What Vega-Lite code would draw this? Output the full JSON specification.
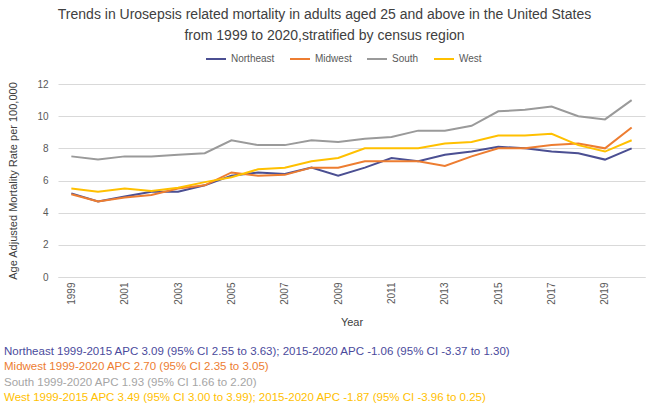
{
 "$schema": "https://vega.github.io/schema/vega-lite/v6.json",
 "background": "white",
 "padding": {"left": 4, "top": 8, "right": 5, "bottom": 5},
 "title": {"text": ["Trends in Urosepsis related mortality in adults aged 25 and above in the United States", "from 1999 to 2020,stratified by census region"], "fontSize": 14, "font": "Liberation Sans", "fontWeight": "normal", "color": "#404040", "lineHeight": 21, "anchor": "middle", "offset": 5},
 "config": {"view": {"stroke": null}, "font": "Liberation Sans"},
 "resolve": {"scale": {"color": "independent"}},
 "spacing": 16,
 "datasets": {
  "rates": [
   {"year": 1999, "region": "Northeast", "rate": 5.2}, {"year": 2000, "region": "Northeast", "rate": 4.7}, {"year": 2001, "region": "Northeast", "rate": 5.0}, {"year": 2002, "region": "Northeast", "rate": 5.3}, {"year": 2003, "region": "Northeast", "rate": 5.3}, {"year": 2004, "region": "Northeast", "rate": 5.7}, {"year": 2005, "region": "Northeast", "rate": 6.3}, {"year": 2006, "region": "Northeast", "rate": 6.5}, {"year": 2007, "region": "Northeast", "rate": 6.4}, {"year": 2008, "region": "Northeast", "rate": 6.8}, {"year": 2009, "region": "Northeast", "rate": 6.3}, {"year": 2010, "region": "Northeast", "rate": 6.8}, {"year": 2011, "region": "Northeast", "rate": 7.4}, {"year": 2012, "region": "Northeast", "rate": 7.2}, {"year": 2013, "region": "Northeast", "rate": 7.6}, {"year": 2014, "region": "Northeast", "rate": 7.8}, {"year": 2015, "region": "Northeast", "rate": 8.1}, {"year": 2016, "region": "Northeast", "rate": 8.0}, {"year": 2017, "region": "Northeast", "rate": 7.8}, {"year": 2018, "region": "Northeast", "rate": 7.7}, {"year": 2019, "region": "Northeast", "rate": 7.3}, {"year": 2020, "region": "Northeast", "rate": 8.0},
   {"year": 1999, "region": "Midwest", "rate": 5.15}, {"year": 2000, "region": "Midwest", "rate": 4.7}, {"year": 2001, "region": "Midwest", "rate": 4.95}, {"year": 2002, "region": "Midwest", "rate": 5.1}, {"year": 2003, "region": "Midwest", "rate": 5.5}, {"year": 2004, "region": "Midwest", "rate": 5.7}, {"year": 2005, "region": "Midwest", "rate": 6.5}, {"year": 2006, "region": "Midwest", "rate": 6.3}, {"year": 2007, "region": "Midwest", "rate": 6.35}, {"year": 2008, "region": "Midwest", "rate": 6.8}, {"year": 2009, "region": "Midwest", "rate": 6.8}, {"year": 2010, "region": "Midwest", "rate": 7.2}, {"year": 2011, "region": "Midwest", "rate": 7.2}, {"year": 2012, "region": "Midwest", "rate": 7.2}, {"year": 2013, "region": "Midwest", "rate": 6.9}, {"year": 2014, "region": "Midwest", "rate": 7.5}, {"year": 2015, "region": "Midwest", "rate": 8.0}, {"year": 2016, "region": "Midwest", "rate": 8.0}, {"year": 2017, "region": "Midwest", "rate": 8.2}, {"year": 2018, "region": "Midwest", "rate": 8.3}, {"year": 2019, "region": "Midwest", "rate": 8.0}, {"year": 2020, "region": "Midwest", "rate": 9.3},
   {"year": 1999, "region": "South", "rate": 7.5}, {"year": 2000, "region": "South", "rate": 7.3}, {"year": 2001, "region": "South", "rate": 7.5}, {"year": 2002, "region": "South", "rate": 7.5}, {"year": 2003, "region": "South", "rate": 7.6}, {"year": 2004, "region": "South", "rate": 7.7}, {"year": 2005, "region": "South", "rate": 8.5}, {"year": 2006, "region": "South", "rate": 8.2}, {"year": 2007, "region": "South", "rate": 8.2}, {"year": 2008, "region": "South", "rate": 8.5}, {"year": 2009, "region": "South", "rate": 8.4}, {"year": 2010, "region": "South", "rate": 8.6}, {"year": 2011, "region": "South", "rate": 8.7}, {"year": 2012, "region": "South", "rate": 9.1}, {"year": 2013, "region": "South", "rate": 9.1}, {"year": 2014, "region": "South", "rate": 9.4}, {"year": 2015, "region": "South", "rate": 10.3}, {"year": 2016, "region": "South", "rate": 10.4}, {"year": 2017, "region": "South", "rate": 10.6}, {"year": 2018, "region": "South", "rate": 10.0}, {"year": 2019, "region": "South", "rate": 9.8}, {"year": 2020, "region": "South", "rate": 11.0},
   {"year": 1999, "region": "West", "rate": 5.5}, {"year": 2000, "region": "West", "rate": 5.3}, {"year": 2001, "region": "West", "rate": 5.5}, {"year": 2002, "region": "West", "rate": 5.35}, {"year": 2003, "region": "West", "rate": 5.55}, {"year": 2004, "region": "West", "rate": 5.9}, {"year": 2005, "region": "West", "rate": 6.2}, {"year": 2006, "region": "West", "rate": 6.7}, {"year": 2007, "region": "West", "rate": 6.8}, {"year": 2008, "region": "West", "rate": 7.2}, {"year": 2009, "region": "West", "rate": 7.4}, {"year": 2010, "region": "West", "rate": 8.0}, {"year": 2011, "region": "West", "rate": 8.0}, {"year": 2012, "region": "West", "rate": 8.0}, {"year": 2013, "region": "West", "rate": 8.3}, {"year": 2014, "region": "West", "rate": 8.4}, {"year": 2015, "region": "West", "rate": 8.8}, {"year": 2016, "region": "West", "rate": 8.8}, {"year": 2017, "region": "West", "rate": 8.9}, {"year": 2018, "region": "West", "rate": 8.2}, {"year": 2019, "region": "West", "rate": 7.8}, {"year": 2020, "region": "West", "rate": 8.5}
  ],
  "notes": [
   {"region": "Northeast", "note": "Northeast 1999-2015 APC 3.09 (95% CI 2.55 to 3.63); 2015-2020 APC -1.06 (95% CI -3.37 to 1.30)"},
   {"region": "Midwest", "note": "Midwest 1999-2020 APC 2.70 (95% CI 2.35 to 3.05)"},
   {"region": "South", "note": "South 1999-2020 APC 1.93 (95% CI 1.66 to 2.20)"},
   {"region": "West", "note": "West 1999-2015 APC 3.49 (95% CI 3.00 to 3.99); 2015-2020 APC -1.87 (95% CI -3.96 to 0.25)"}
  ]
 },
 "vconcat": [
  {
   "width": 587, "height": 193,
   "data": {"name": "rates"},
   "mark": {"type": "line", "strokeWidth": 2},
   "encoding": {
    "x": {"field": "year", "type": "ordinal", "scale": {"type": "point", "padding": 0.5},
     "axis": {"values": [1999, 2001, 2003, 2005, 2007, 2009, 2011, 2013, 2015, 2017, 2019], "labelAngle": -90, "ticks": false, "domainColor": "#d9d9d9", "labelColor": "#595959", "labelFontSize": 10, "labelPadding": 5, "title": "Year", "titleFontSize": 11, "titleFontWeight": "normal", "titleColor": "#404040", "titlePadding": 12}},
    "y": {"field": "rate", "type": "quantitative", "scale": {"domain": [0, 12]},
     "axis": {"values": [0, 2, 4, 6, 8, 10, 12], "domain": false, "ticks": false, "gridColor": "#d9d9d9", "labelColor": "#595959", "labelFontSize": 10, "labelPadding": 10, "title": "Age Adjusted Mortality Rate per 100,000", "titleFontSize": 11, "titleFontWeight": "normal", "titleColor": "#404040", "titlePadding": 18}},
    "color": {"field": "region", "type": "nominal",
     "scale": {"domain": ["Northeast", "Midwest", "South", "West"], "range": ["#4b4f92", "#ed7d31", "#9a9a9a", "#ffc000"]},
     "legend": {"orient": "none", "direction": "horizontal", "legendX": 147, "legendY": -36, "title": null, "symbolType": "stroke", "symbolStrokeWidth": 2, "symbolSize": 400, "labelFontSize": 10, "labelColor": "#595959", "columnPadding": 11}}
   }
  },
  {
   "width": 587, "height": 62,
   "data": {"name": "notes"},
   "mark": {"type": "text", "align": "left", "baseline": "middle", "fontSize": 11.5, "dx": -54},
   "encoding": {
    "x": {"datum": 0, "type": "quantitative", "scale": {"domain": [0, 1]}, "axis": null},
    "y": {"field": "region", "type": "nominal", "sort": ["Northeast", "Midwest", "South", "West"], "axis": null},
    "text": {"field": "note"},
    "color": {"field": "region", "type": "nominal",
     "scale": {"domain": ["Northeast", "Midwest", "South", "West"], "range": ["#4a4a9c", "#ed7d31", "#a5a5a5", "#ffc000"]},
     "legend": null}
   }
  }
 ]
}
